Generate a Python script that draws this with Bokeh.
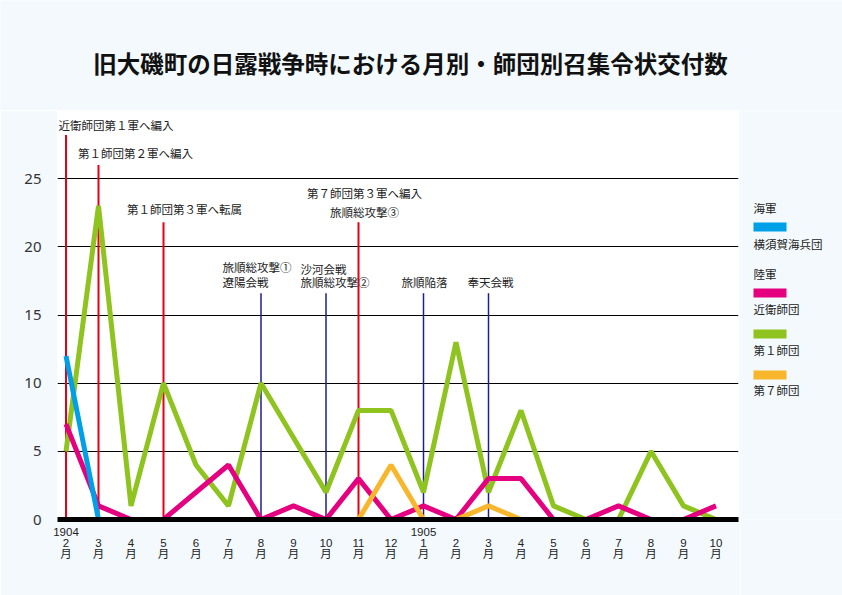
from bokeh.plotting import figure
from bokeh.models import FixedTicker, Range1d
from bokeh.layouts import column, row
from bokeh.core.properties import value
from bokeh.embed import file_html
from bokeh.resources import INLINE
import numpy as np

# ---------------- data ----------------
month_labels = ["2", "3", "4", "5", "6", "7", "8", "9", "10", "11", "12",
                "1", "2", "3", "4", "5", "6", "7", "8", "9", "10"]
year_marks = {0: "1904", 11: "1905"}

yokosuka = [12, 0] + [None] * 19                      # 横須賀海兵団
konoe = [7, 1, 0, 0, 2, 4, 0, 1, 0, 3, 0, 1, 0, 3, 3, 0, 0, 1, 0, 0, 1]   # 近衛師団
dai1 = [5, 23, 1, 10, 4, 1, 10, 6, 2, 8, 8, 2, 13, 2, 8, 1, 0, 0, 5, 1, 0]  # 第１師団
dai7 = [None] * 9 + [0, 4, 0, 0, 1, 0] + [None] * 6   # 第７師団

event_month = [0, 1, 3, 9, 6, 8, 11, 13]
event_kind = ["red", "red", "red", "red", "navy", "navy", "navy", "navy"]
event_top = [28.2, 26.0, 21.8, 21.8, 16.6, 16.6, 16.6, 16.6]

title_text = "旧大磯町の日露戦争時における月別・師団別召集令状交付数"
legend_groups = ["海軍", "陸軍"]
legend_names = ["横須賀海兵団", "近衛師団", "第１師団", "第７師団"]

# ---------------- styling ----------------
BG = "#f3f9fd"
C_BLUE = "#00a0e9"
C_PINK = "#e4007f"
C_GREEN = "#8fc31f"
C_ORANGE = "#f8b62d"
C_RED = "#e60012"
C_NAVY = "#1d2088"
JP = "Noto Sans CJK JP"
TXT = "#222222"

W, H = 842, 595
TOP = 110          # page y of the plot frame top
FL, FR = 57, 738   # plot frame left / right (page px)
FB = 519           # plot frame bottom (page px)

x = np.arange(len(month_labels))

def arr(v):
    return np.array([np.nan if a is None else a for a in v], dtype=float)

PX0, PXS = 65.5, 32.5
PYS = 13.633
def X(px):
    return (px - PX0) / PXS
def Y(py):
    return (FB - py) / PYS

def bare(fig):
    fig.background_fill_color = BG
    fig.border_fill_color = BG
    fig.outline_line_color = None
    fig.min_border_left = fig.min_border_right = fig.min_border_top = fig.min_border_bottom = 0
    fig.grid.visible = False
    return fig

# ---------------- title strip ----------------
t = bare(figure(width=W, height=TOP, output_backend="svg", toolbar_location=None,
                x_range=Range1d(0, W), y_range=Range1d(TOP, 0),
                x_axis_location=None, y_axis_location=None))
t.text(x=[410], y=[62], text=[title_text], text_align="center", text_baseline="middle",
       text_font=value(JP), text_font_size="23.5px", text_font_style="bold", text_color="#111111")

# ---------------- main chart ----------------
MW = FR + 2
p = figure(width=MW, height=H - TOP, output_backend="svg", toolbar_location=None,
           x_range=Range1d(X(FL), X(FR)), y_range=Range1d(0, (FB - TOP) / PYS),
           min_border_left=FL, min_border_right=MW - FR, min_border_top=0,
           min_border_bottom=H - FB)
p.background_fill_color = "white"
p.border_fill_color = BG
p.outline_line_color = None

tick_text = {}
for i, m in enumerate(month_labels):
    tick_text[i] = f"{year_marks.get(i, ' ')}\n{m}\n月"
p.xaxis.ticker = FixedTicker(ticks=list(range(len(month_labels))))
p.xaxis.major_label_overrides = tick_text
p.xaxis.axis_line_width = 5
p.xaxis.axis_line_color = "black"
p.xaxis.major_tick_line_color = None
p.xaxis.minor_tick_line_color = None
p.xaxis.major_label_standoff = 0
p.xaxis.major_label_text_font = "Liberation Sans, Noto Sans CJK JP"
p.xaxis.major_label_text_font_size = "11.5px"
p.xaxis.major_label_text_color = TXT
p.xaxis.major_label_text_line_height = 0.93

p.yaxis.ticker = FixedTicker(ticks=[0, 5, 10, 15, 20, 25])
p.yaxis.axis_line_color = None
p.yaxis.major_tick_line_color = None
p.yaxis.minor_tick_line_color = None
p.yaxis.major_label_standoff = 10
p.yaxis.major_label_text_font = "Noto Sans"
p.yaxis.major_label_text_font_size = "15px"
p.yaxis.major_label_text_color = "#333333"

p.xgrid.grid_line_color = None
p.ygrid.ticker = FixedTicker(ticks=[5, 10, 15, 20, 25])
p.ygrid.grid_line_color = "black"
p.ygrid.grid_line_width = 1

ev_colors = [C_RED if k == "red" else C_NAVY for k in event_kind]
ev_widths = [2 if k == "red" else 1.5 for k in event_kind]
p.segment(x0=event_month, y0=[0] * len(event_month), x1=event_month, y1=event_top,
          line_color=ev_colors, line_width=ev_widths)

for series, col in [(dai1, C_GREEN), (konoe, C_PINK), (dai7, C_ORANGE), (yokosuka, C_BLUE)]:
    p.line(x, arr(series), line_color=col, line_width=5, line_join="bevel", line_cap="butt")

ev_texts = [
    ("近衛師団第１軍へ編入", 58, 124, "left"),
    ("第１師団第２軍へ編入", 135, 152, "center"),
    ("第１師団第３軍へ転属", 184, 208, "center"),
    ("第７師団第３軍へ編入", 364, 192, "center"),
    ("旅順総攻撃③", 364, 211, "center"),
    ("旅順総攻撃①", 222, 266, "left"),
    ("遼陽会戦", 222, 281, "left"),
    ("沙河会戦", 300, 268, "left"),
    ("旅順総攻撃②", 300, 281, "left"),
    ("旅順陥落", 424, 281, "center"),
    ("奉天会戦", 490, 281, "center"),
]
p.text(x=[X(e[1]) for e in ev_texts], y=[Y(e[2]) for e in ev_texts], text=[e[0] for e in ev_texts],
       text_align=[e[3] for e in ev_texts], text_baseline="middle",
       text_font=value(JP), text_font_size="11.5px", text_color=TXT)

# ---------------- legend strip (frame aligned with the chart frame) ----------------
lg = bare(figure(width=W - MW, height=H - TOP, output_backend="svg", toolbar_location=None,
                 x_range=Range1d(MW, W), y_range=Range1d(FB, TOP),
                 x_axis_location=None, y_axis_location=None))
leg_cols = [C_BLUE, C_PINK, C_GREEN, C_ORANGE]
sw_top = [222, 288, 329, 370]
name_y = [243, 308, 349, 389]
group_y = [207, 273]
lg.quad(left=[753] * 4, right=[786] * 4, top=sw_top, bottom=[s + 9 for s in sw_top],
        fill_color=leg_cols, line_color=None)
lg.text(x=[753] * 6, y=group_y + name_y, text=legend_groups + legend_names,
        text_align="left", text_baseline="middle",
        text_font=value(JP), text_font_size="11.5px", text_color=TXT)

layout = column(t, row(p, lg))
open("out.html", "w").write(file_html(layout, INLINE))
